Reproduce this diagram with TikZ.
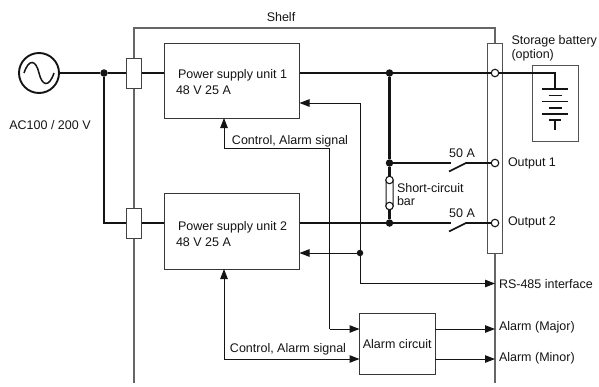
\documentclass[tikz,border=0pt]{standalone}
\usepackage{fontspec}
\setmainfont{Liberation Sans}
\usetikzlibrary{arrows.meta,calc}
\definecolor{ink}{HTML}{141414}
\definecolor{shelfgray}{HTML}{666666}
\tikzset{
  x=1pt,y=-1pt,
  every node/.style={font=\fontsize{12.5}{14}\selectfont,text=ink,inner sep=0pt,outer sep=0pt},
  boxn/.style={draw=ink!85,line width=1pt,fill=white,minimum width=#1},
  fuse/.style={draw=ink!80,line width=1pt,fill=white,minimum width=15.5pt,minimum height=30pt},
  lab/.style={anchor=west},
  dotj/.style={circle,fill=ink,minimum size=7.5pt},
  term/.style={circle,draw=ink,fill=white,line width=1.1pt,minimum size=7.5pt},
  heavy/.style={draw=ink,line width=2.2pt},
  mid/.style={draw=ink,line width=1.6pt},
  sig/.style={draw=ink,line width=1pt},
  sigar/.style={sig,-{Triangle[length=10pt,width=7.5pt]},shorten >=0pt},
  shelfl/.style={draw=shelfgray,line width=1.2pt},
  thinbox/.style={draw=shelfgray!80!black,line width=1pt},
}
\begin{document}
\begin{tikzpicture}
\useasboundingbox (0,0) rectangle (599,386);
% shelf outline
\coordinate (sTL) at (134,28);
\coordinate (sTR) at (495,28);
\coordinate (sBL) at (134,383);
\coordinate (sBR) at (495,383);
\draw[shelfl] (sBL) -- (sTL) -- (sTR) -- (495,43);
\draw[shelfl] (495,253) -- (sBR);
\node at (281,17) {Shelf};
% terminal bar
\node[thinbox,fill=white,minimum width=15pt,minimum height=210pt] (bar) at (495,148) {};
% boxes
\node[boxn=135.5pt,minimum height=75pt] (psu1) at (231.75,80.5) {};
\node[boxn=135.5pt,minimum height=76pt] (psu2) at (231.75,231) {};
\node[boxn=75.5pt,minimum height=60.5pt] (alarm) at (397.25,343.75) {Alarm circuit};
\node[lab] (t1a) at (178,75) {Power supply unit 1};
\node[lab] (t1b) at (176,90) {48 V 25 A};
\node[lab] (t2a) at (178,227.5) {Power supply unit 2};
\node[lab] (t2b) at (176,242) {48 V 25 A};
\node[fuse] (f1) at (133.75,73) {};
\node[fuse] (f2) at (133.75,223) {};
% source
\node[circle,draw=ink,line width=1.9pt,minimum size=40pt] (ac) at (39,73) {};
\draw[ink,line width=1.5pt] (24,73) .. controls (29,58) and (36,60) .. (39,73) .. controls (42,86) and (49,88) .. (54,73);
\node at (50,125.5) {AC100 / 200 V};
% junctions and terminals
\node[dotj] (j0) at (104,73) {};
\coordinate (c0) at (104,223);
\node[dotj] (j1) at (389.5,73) {};
\node[dotj] (j2) at (389.5,163) {};
\node[dotj] (j3) at (389.5,223) {};
\node[dotj,minimum size=6.5pt] (j4) at (360,253) {};
% power wiring
\draw[heavy] (ac.east) -- (j0) -- (f1.west);
\draw[heavy] (j0) -- (c0) -- (f2.west);
\draw[heavy] (f1.east) -- (psu1.west |- f1.east);
\draw[heavy] (f2.east) -- (psu2.west |- f2.east);
\draw[heavy] (psu1.east |- j1) -- (j1) -- (495,73);
\draw[heavy] (j1) -- (j2) -- (389.5,180);
\draw[heavy] (389.5,206) -- (j3);
\draw[thinbox,ink] (386,180) -- (386,206) arc[start angle=180,end angle=360,radius=3.5pt] -- (393,180);
\node[term] (T0) at (495,73) {};
\node[term] (T1) at (495,163) {};
\node[term] (T2) at (495,223) {};
\node[term] (b1) at (389.5,180) {};
\node[term] (b2) at (389.5,206) {};
% output 1
\coordinate (s1a) at (451,163);
\coordinate (s1b) at (449,171.5);
\coordinate (s1c) at (466,163);
\draw[mid] (j2) -- (s1a);
\draw[mid] (s1b) -- (s1c) -- (T1.west);
\node at (462,153.5) {50 A};
% output 2
\coordinate (s2a) at (451,223);
\coordinate (s2b) at (449,231.5);
\coordinate (s2c) at (466,223);
\draw[mid] (psu2.east |- j3) -- (s2a);
\draw[mid] (s2b) -- (s2c) -- (T2.west);
\node at (462,213.5) {50 A};
\node[lab] (o1) at (508,163) {Output 1};
\node[lab] (o2) at (508,222) {Output 2};
\node[lab] (sc1) at (397,188.5) {Short-circuit};
\node[lab] (sc2) at (397,201.5) {bar};
% battery
\node[thinbox,minimum width=45.5pt,minimum height=75.5pt] (batt) at (555.25,103.25) {};
\coordinate (bt) at (555,89);
\draw[heavy] (T0.east) -- (bt |- T0.east) -- (bt);
\draw[ink,line width=1.7pt] (542,89) -- (568,89) (548.5,95.5) -- (561.5,95.5) (542,101.5) -- (568,101.5) (548.5,108) -- (561.5,108) (542,114) -- (568,114) (549,120) -- (561,120) (555,120) -- (555,130);
\node[lab] (bl1) at (511.5,41) {Storage battery};
\node[lab] (bl2) at (511.5,55.5) {(option)};
% signals
\draw[sigar] (329.5,329) -- (alarm.west |- 329.5,329) ;
\draw[sig] (329.5,329) -- (329.5,148) -- (224,148);
\draw[sigar] (224,148) -- (psu1.south -| 224,148);
\draw[sigar] (360,103) -- (psu1.east |- 360,103);
\draw[sig] (360,103) -- (j4);
\draw[sigar] (j4) -- (psu2.east |- j4);
\draw[sig] (j4) -- (360,283.5);
\draw[sigar] (360,283.5) -- (bar.south |- 360,283.5);
\draw[sigar] (224,359) -- (psu2.south -| 224,359);
\draw[sigar] (224,359) -- (alarm.west |- 224,359);
\draw[sigar] (alarm.east |- 0,329) -- (495,329);
\draw[sigar] (alarm.east |- 0,359) -- (495,359);
\node at (290,141) {Control, Alarm signal};
\node at (288,349.5) {Control, Alarm signal};
\node[lab] (rs) at (499,284) {RS-485 interface};
\node[lab] (am) at (499,327) {Alarm (Major)};
\node[lab] (an) at (499,358) {Alarm (Minor)};
\end{tikzpicture}
\end{document}
